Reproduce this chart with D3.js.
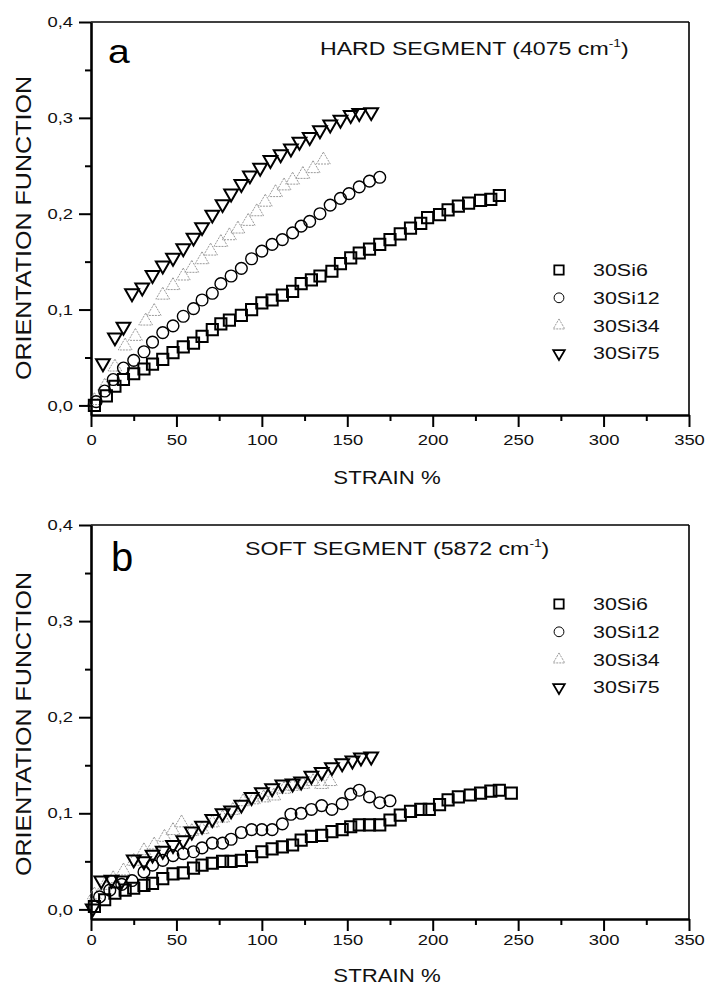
<!DOCTYPE html>
<html>
<head>
<meta charset="utf-8">
<script src="https://cdn.jsdelivr.net/npm/d3@7"></script>
<style>
  body { margin: 0; background: #fff; }
  svg { display: block; font-family: Arial, "Liberation Sans", sans-serif; }
</style>
</head>
<body>
<div id="chart"></div>
<script>
const seriesNames = ["30Si6", "30Si12", "30Si34", "30Si75"];
const xTicks = [0, 50, 100, 150, 200, 250, 300, 350];
const yTicks = [0, 0.1, 0.2, 0.3, 0.4];

// (a) hard segment, 4075 cm-1
const hardStrainSi6 = [2,9,14,19,25,31,36,42,48,54,60,65,71,76,81,88,94,100,106,112,118,123,129,134,141,146,152,157,163,169,175,181,187,193,197,204,209,215,221,228,234,239];
const hardSi6 = [0.0,0.01,0.02,0.027,0.033,0.038,0.043,0.048,0.055,0.061,0.065,0.072,0.079,0.085,0.089,0.094,0.100,0.107,0.110,0.115,0.119,0.127,0.131,0.135,0.140,0.148,0.154,0.159,0.163,0.168,0.173,0.179,0.185,0.19,0.196,0.199,0.204,0.208,0.211,0.214,0.215,0.219];
const hardStrainSi12 = [3,8,13,19,25,31,36,42,48,54,60,65,71,76,82,88,94,100,106,112,118,123,128,134,140,146,151,157,163,169];
const hardSi12 = [0.004,0.015,0.027,0.039,0.047,0.056,0.066,0.076,0.083,0.093,0.101,0.110,0.117,0.127,0.135,0.143,0.153,0.161,0.168,0.173,0.18,0.187,0.192,0.2,0.209,0.216,0.221,0.228,0.234,0.238];
const hardStrainSi34 = [2,8,14,20,26,32,37,42,48,54,59,65,70,76,81,86,92,97,102,108,113,118,124,130,136];
const hardSi34 = [0.005,0.02,0.04,0.062,0.072,0.088,0.098,0.115,0.125,0.135,0.143,0.152,0.161,0.17,0.177,0.184,0.192,0.202,0.212,0.222,0.229,0.235,0.241,0.247,0.256];
const hardStrainSi75 = [7,14,19,24,30,36,42,48,54,60,65,71,77,82,88,93,99,105,111,117,122,128,134,140,146,152,157,164];
const hardSi75 = [0.044,0.071,0.082,0.117,0.123,0.136,0.146,0.154,0.164,0.175,0.186,0.199,0.210,0.221,0.231,0.240,0.248,0.256,0.262,0.268,0.275,0.280,0.287,0.293,0.298,0.303,0.305,0.306];

// (b) soft segment, 5872 cm-1
const softStrainSi6 = [2,8,14,20,25,31,36,42,48,54,60,65,71,77,82,88,94,100,106,112,118,123,129,135,141,147,152,157,163,169,175,181,187,193,198,204,209,215,222,228,234,239,246];
const softSi6 = [0.003,0.01,0.017,0.02,0.022,0.025,0.027,0.032,0.037,0.038,0.043,0.046,0.048,0.05,0.05,0.051,0.055,0.06,0.063,0.065,0.067,0.072,0.076,0.077,0.081,0.083,0.086,0.088,0.088,0.088,0.093,0.098,0.102,0.104,0.104,0.109,0.114,0.117,0.119,0.121,0.123,0.124,0.121];
const softStrainSi12 = [5,11,18,24,31,36,42,48,54,60,65,71,77,82,88,94,100,106,112,117,123,129,135,141,147,152,157,163,169,175];
const softSi12 = [0.013,0.02,0.026,0.03,0.039,0.046,0.051,0.056,0.058,0.06,0.064,0.069,0.069,0.073,0.08,0.083,0.083,0.083,0.089,0.099,0.1,0.104,0.108,0.104,0.11,0.12,0.124,0.117,0.111,0.113];
const softStrainSi34 = [2,8,13,19,25,31,37,43,48,53,59,65,71,77,83,89,95,101,107,113,118,124,130,135,140];
const softSi34 = [0.015,0.025,0.032,0.04,0.05,0.061,0.067,0.075,0.082,0.09,0.081,0.083,0.09,0.095,0.103,0.112,0.114,0.116,0.118,0.125,0.128,0.13,0.133,0.13,0.133];
const softStrainSi75 = [1,6,12,18,25,31,36,42,48,54,59,65,71,77,82,88,94,100,106,112,118,123,129,135,141,147,153,158,164];
const softSi75 = [0.001,0.03,0.031,0.03,0.052,0.05,0.057,0.061,0.067,0.072,0.081,0.087,0.094,0.1,0.103,0.109,0.117,0.122,0.126,0.13,0.131,0.133,0.139,0.143,0.148,0.152,0.155,0.158,0.159];

const SX = 1.27; // lettering in the figure is wider than plain Arial
const fmt = d => d.toFixed(1).replace(".", ",");

const svg = d3.select('#chart')
  .append("svg")
    .attr("width", 707)
    .attr("height", 993);

// marker styles, one per series (same order as seriesNames)
const markers = [
  { type: d3.symbolSquare, size: 125, rot: 0, stroke: "#000", width: 2, dash: null },
  { type: d3.symbolCircle, size: 108, rot: 0, stroke: "#000", width: 1.4, dash: null },
  { type: d3.symbolTriangle, size: 82, rot: 0, stroke: "#9a9a9a", width: 1, dash: "2,1" },
  { type: d3.symbolTriangle, size: 82, rot: 180, stroke: "#000", width: 2, dash: null }
];

function stretchText(sel, k) {
  sel.attr("transform", "scale(" + k + ",1)");
}

function drawPanel(p) {
  const x = d3.scaleLinear().domain([0, 350]).range([91, 689]);
  const y = d3.scaleLinear().domain([-0.01, 0.4]).range([p.bottom, p.top]);
  const g = svg.append("g");

  // frame: top and right thinner
  g.append("line").attr("x1", 91).attr("x2", 689).attr("y1", p.top).attr("y2", p.top)
    .attr("stroke", "#000").attr("stroke-width", 1.6);
  g.append("line").attr("x1", 689).attr("x2", 689).attr("y1", p.top).attr("y2", p.bottom)
    .attr("stroke", "#000").attr("stroke-width", 1.6);

  // minor ticks
  g.append("g")
    .attr("transform", "translate(0," + p.bottom + ")")
    .call(d3.axisBottom(x).tickValues(d3.range(25, 350, 50)).tickSize(6).tickFormat(""))
    .call(a => a.select(".domain").remove())
    .call(a => a.selectAll("line").attr("stroke-width", 2));
  g.append("g")
    .attr("transform", "translate(91,0)")
    .call(d3.axisLeft(y).tickValues([0.05, 0.15, 0.25, 0.35]).tickSize(6).tickFormat(""))
    .call(a => a.select(".domain").remove())
    .call(a => a.selectAll("line").attr("stroke-width", 2));

  // major ticks and labels
  const xa = g.append("g")
    .attr("transform", "translate(0," + p.bottom + ")")
    .call(d3.axisBottom(x).tickValues(xTicks).tickSize(12).tickSizeOuter(0).tickPadding(p.xPad));
  xa.select(".domain").attr("stroke-width", 2.6);
  xa.selectAll("line").attr("stroke-width", 2);
  xa.selectAll("text").attr("font-size", 14.5).attr("fill", "#111")
    .attr("font-family", "Arial, 'Liberation Sans', sans-serif");
  stretchText(xa.selectAll("text"), SX);

  const ya = g.append("g")
    .attr("transform", "translate(91,0)")
    .call(d3.axisLeft(y).tickValues(yTicks).tickSize(12).tickSizeOuter(0).tickFormat(fmt));
  ya.select(".domain").attr("stroke-width", 2.6);
  ya.selectAll("line").attr("stroke-width", 2);
  ya.selectAll("text").attr("font-size", 14.5).attr("fill", "#111")
    .attr("x", -18 / SX)
    .attr("font-family", "Arial, 'Liberation Sans', sans-serif");
  stretchText(ya.selectAll("text"), SX);

  // axis titles
  g.append("text")
    .attr("transform", "translate(387," + p.xTitleY + ") scale(1.2,1)")
    .attr("text-anchor", "middle").attr("font-size", 18.5).attr("fill", "#111")
    .text("STRAIN %");
  g.append("text")
    .attr("transform", "translate(31," + p.yTitleY + ") rotate(-90) scale(1.14,1)")
    .attr("text-anchor", "middle").attr("font-size", 22).attr("fill", "#111")
    .text("ORIENTATION FUNCTION");

  // panel letter
  g.append("text")
    .attr("transform", "translate(" + p.letterX + "," + p.letterY + ") scale(" + p.letterSX + ",1)")
    .attr("font-size", p.letterSize).attr("fill", "#000")
    .text(p.letter);

  // segment heading
  const h = g.append("text")
    .attr("transform", "translate(" + p.headX + "," + p.headY + ") scale(1.25,1)")
    .attr("font-size", 18.5).attr("fill", "#111");
  h.append("tspan").text(p.heading + " (" + p.band + " cm");
  h.append("tspan").attr("font-size", 11).attr("dy", -8).text("-1");
  h.append("tspan").attr("dy", 8).text(")");

  // data points (grey series first so black ones sit on top)
  const order = [2, 0, 1, 3];
  order.forEach(i => {
    const m = markers[i];
    const pts = p.strain[i].map((s, j) => ({ s: s, v: p.value[i][j] }));
    g.append("g").selectAll("path")
      .data(pts)
      .join("path")
        .attr("transform", d => "translate(" + x(d.s) + "," + y(d.v) + ") rotate(" + m.rot + ")")
        .attr("d", d3.symbol().type(m.type).size(m.size))
        .attr("fill", "none")
        .attr("stroke", m.stroke)
        .attr("stroke-width", m.width)
        .attr("stroke-dasharray", m.dash);
  });

  // legend
  const lg = g.append("g");
  seriesNames.forEach((name, i) => {
    const m = markers[i];
    const ly = p.legendY + i * 27.8;
    lg.append("path")
      .attr("transform", "translate(559," + ly + ") rotate(" + m.rot + ")")
      .attr("d", d3.symbol().type(m.type).size(m.size * 0.7))
      .attr("fill", "none")
      .attr("stroke", m.stroke)
      .attr("stroke-width", i === 1 || i === 2 ? 1 : 1.8)
      .attr("stroke-dasharray", m.dash);
    lg.append("text")
      .attr("transform", "translate(593," + (ly + 6) + ") scale(1.3,1)")
      .attr("font-size", 16.5).attr("fill", "#111")
      .text(name);
  });
}

drawPanel({
  top: 22, bottom: 415, xPad: 8, xTitleY: 484, yTitleY: 228,
  letter: "a", letterX: 108, letterY: 63, letterSize: 34, letterSX: 1.15,
  heading: "HARD SEGMENT", band: "4075", headX: 320, headY: 55,
  legendY: 270,
  strain: [hardStrainSi6, hardStrainSi12, hardStrainSi34, hardStrainSi75],
  value: [hardSi6, hardSi12, hardSi34, hardSi75]
});

drawPanel({
  top: 525, bottom: 919, xPad: 4, xTitleY: 982, yTitleY: 724,
  letter: "b", letterX: 111, letterY: 571, letterSize: 40, letterSX: 1.0,
  heading: "SOFT SEGMENT", band: "5872", headX: 245, headY: 555,
  legendY: 604,
  strain: [softStrainSi6, softStrainSi12, softStrainSi34, softStrainSi75],
  value: [softSi6, softSi12, softSi34, softSi75]
});
</script>
</body>
</html>
